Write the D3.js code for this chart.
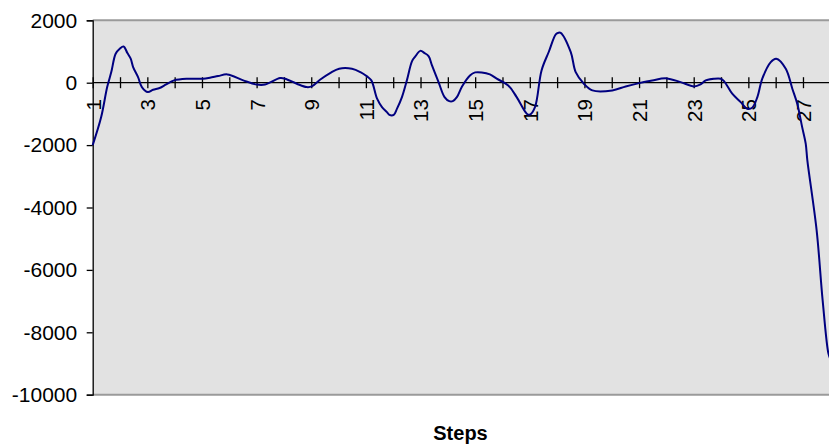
<!DOCTYPE html>
<html>
<head>
<meta charset="utf-8">
<script src="https://cdn.jsdelivr.net/npm/d3@7"></script>
<style>
  html, body { margin: 0; padding: 0; background: #ffffff; }
  svg { display: block; }
</style>
</head>
<body>
<svg id="chart" width="829" height="448"></svg>
<script>
// ---- data ----
const steps = [1.0, 1.31, 1.53, 1.68, 1.84, 1.99, 2.13, 2.27, 2.39, 2.48, 2.66, 2.80,
  3.02, 3.21, 3.45, 3.69, 3.98, 4.49, 5.04, 5.29, 5.59, 5.93, 6.51, 7.0, 7.31,
  7.86, 8.04, 8.47, 8.83, 9.02, 9.32, 9.69, 10.02, 10.49, 10.8, 11.04, 11.2,
  11.41, 11.59, 11.77, 11.86, 12.02, 12.14, 12.32, 12.5, 12.69, 12.81, 12.99,
  13.15, 13.3, 13.42, 13.66, 13.88, 14.05, 14.18, 14.33, 14.52, 14.81, 15.0,
  15.24, 15.54, 15.79, 16.21, 16.52, 16.89, 17.0, 17.19, 17.43, 17.7, 17.95,
  18.05, 18.13, 18.5, 18.68, 18.98, 19.29, 20.02, 20.51, 21.0, 21.48, 22.0,
  22.52, 23.01, 23.25, 23.44, 23.74, 23.99, 24.11, 24.41, 24.72, 24.96, 25.14,
  25.33, 25.51, 25.82, 26.02, 26.37, 26.61, 26.79, 26.97, 27.1, 27.16, 27.5,
  27.72, 27.93, 28.0];
const values = [-2000, -1100, -140, 340, 930, 1090, 1163, 950, 770, 500, 180, -140,
  -300, -225, -170, -55, 75, 128, 128, 160, 212, 266, 74, -60, -60,
  148, 128, -32, -140, -119, 96, 308, 450, 449, 340, 202, 74,
  -513, -782, -942, -1030, -1030, -833, -462, 74, 692, 843, 1020,
  949, 843, 554, 19, -462, -590, -590, -462, -119, 234, 330,
  330, 266, 128, -87, -462, -994, -1026, -782, 394, 1000, 1550,
  1600, 1600, 980, 340, -32, -247, -247, -119, -13, 74, 138,
  19, -119, -55, 74, 128, 128, 51, -353, -622, -833, -801,
  -462, 128, 660, 769, 449, -192, -673, -1423, -1955, -2490, -4734,
  -6978, -8676, -8850];
const xTicks = d3.range(1, 29);
const xLabels = [1, 3, 5, 7, 9, 11, 13, 15, 17, 19, 21, 23, 25, 27];
const yTicks = [2000, 0, -2000, -4000, -6000, -8000, -10000];
const xTitle = "Steps";

// ---- layout ----
const pLeft = 92.7, pRight = 830.3, pTop = 20.3, pBottom = 394.7;
const svg = d3.select("#chart");
const x = d3.scaleLinear().domain([1, 28]).range([pLeft, pRight]);
const y = d3.scaleLinear().domain([-10000, 2000]).range([pBottom, pTop]);

// plot area
svg.append("rect")
  .attr("x", pLeft).attr("y", pTop)
  .attr("width", pRight - pLeft + 10).attr("height", pBottom - pTop)
  .attr("fill", "#e2e2e2");
svg.append("line").attr("x1", pLeft).attr("x2", 829).attr("y1", pTop).attr("y2", pTop)
  .attr("stroke", "#9a9a9a").attr("stroke-width", 2);
svg.append("line").attr("x1", pLeft).attr("x2", 829).attr("y1", pBottom).attr("y2", pBottom)
  .attr("stroke", "#9a9a9a").attr("stroke-width", 2);

// y axis
const yAxis = svg.append("g")
  .attr("transform", `translate(${pLeft},0)`)
  .call(d3.axisLeft(y).tickValues(yTicks).tickSize(6).tickPadding(9.5).tickFormat(d => String(d)));
yAxis.selectAll("path, line").attr("stroke", "#000").attr("stroke-width", 1.3);
yAxis.selectAll("text")
  .attr("font-family", "Liberation Sans, Arial, sans-serif")
  .attr("font-size", 21).attr("fill", "#000");

// x axis at zero
const xAxis = svg.append("g")
  .attr("transform", `translate(0,${y(0)})`)
  .call(d3.axisBottom(x).tickValues(xTicks).tickSizeOuter(0)
    .tickFormat(d => xLabels.includes(d) ? String(d) : ""));
xAxis.select(".domain").attr("stroke", "#000").attr("stroke-width", 1.3)
  .attr("d", `M${pLeft},0H829`);
xAxis.selectAll(".tick line").attr("y1", -5.5).attr("y2", 5.5)
  .attr("stroke", "#000").attr("stroke-width", 1.3);
xAxis.selectAll(".tick text")
  .attr("transform", "rotate(-90)")
  .attr("text-anchor", "end")
  .attr("x", -16.5).attr("y", 0).attr("dy", "0.36em")
  .attr("font-family", "Liberation Sans, Arial, sans-serif")
  .attr("font-size", 20.5).attr("fill", "#000");

// line
const pts = steps.map((s, i) => [s, values[i]]);
svg.append("path")
  .datum(pts)
  .attr("fill", "none")
  .attr("stroke", "#000080")
  .attr("stroke-width", 2)
  .attr("stroke-linejoin", "round")
  .attr("d", d3.line().x(d => x(d[0])).y(d => y(d[1])).curve(d3.curveCatmullRom.alpha(0.5)));

// title
svg.append("text")
  .attr("x", 460.5).attr("y", 440)
  .attr("text-anchor", "middle")
  .attr("font-family", "Liberation Sans, Arial, sans-serif")
  .attr("font-weight", "bold").attr("font-size", 20)
  .text(xTitle);
</script>
</body>
</html>
